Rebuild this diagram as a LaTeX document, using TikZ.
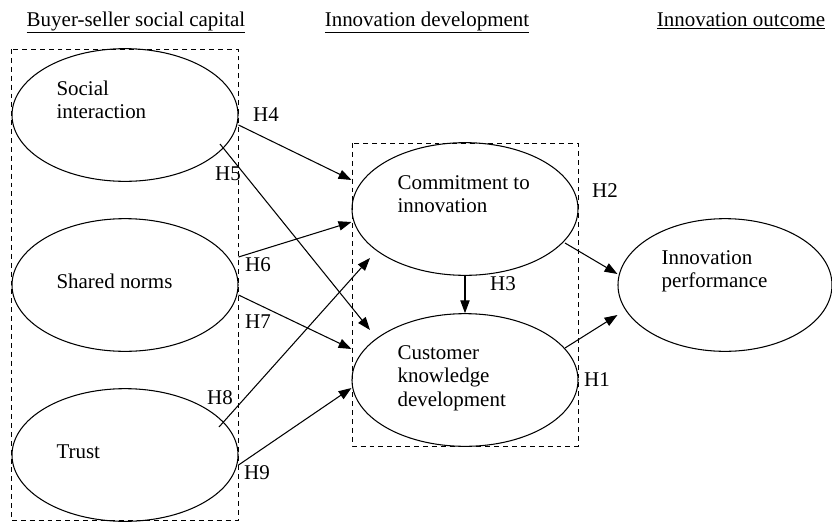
\documentclass[tikz,border=0pt]{standalone}
\usepackage{fontspec}
\setmainfont{Liberation Serif}
\usetikzlibrary{shapes.geometric,arrows.meta,calc}

\begin{document}
\begin{tikzpicture}[x=0.03cm, y=-0.03cm, line width=0.9pt,
  font=\fontsize{17.9}{20}\selectfont,
  construct/.style={draw, ellipse, inner sep=0pt, minimum width=6.78cm, minimum height=3.98cm},
  txt/.style={anchor=west, align=left, inner sep=0pt},
  hyp/.style={inner sep=0pt},
  dashbox/.style={dash pattern=on 4.2pt off 3.4pt, line width=0.8pt},
  arr/.style={-{Triangle[length=11pt,width=8pt]}}]
\useasboundingbox (0,0) rectangle (832,522);

% headings
\node[anchor=base] (hsoc) at (136,26) {\underline{Buyer-seller social capital}};
\node[anchor=base] (hdev) at (427,26) {\underline{Innovation development}};
\node[anchor=base] (hout) at (741,26) {\underline{Innovation outcome}};

% dashed boxes
\draw[dashbox] (11,49) rectangle (238,520);
\draw[dashbox] (352,143) rectangle (578,446);

% constructs
\node[construct] (si) at (125,115) {};
\node[construct] (sn) at (125,285) {};
\node[construct] (tr) at (125,455) {};
\node[construct] (ci) at (465,209) {};
\node[construct] (ck) at (465,380) {};
\node[construct, minimum width=6.42cm] (ip) at (725,285) {};

\node[txt] (sit) at (56,100) {Social\\interaction};
\node[txt] (snt) at (56,281) {Shared norms};
\node[txt] (trt) at (56,452) {Trust};
\node[txt] (cit) at (397,194) {Commitment to\\innovation};
\node[txt] (ckt) at (397,378) {Customer\\knowledge\\development};
\node[txt] (ipt) at (661,271) {Innovation\\performance};

% hypotheses
\draw[arr] ($(si.east)+(0,10)$) -- ($(ci.west)+(0,-29)$);
\draw[arr] ($(si.center)+(95,29)$) -- ($(ck.center)+(-95,-50)$);
\draw[arr] ($(sn.east)+(0,-28)$) -- ($(ci.west)+(0,13)$);
\draw[arr] ($(sn.east)+(0,10)$) -- ($(ck.west)+(0,-31)$);
\draw[arr] ($(tr.center)+(94,-28)$) -- ($(ci.center)+(-95,49)$);
\draw[arr] ($(tr.east)+(0,10)$) -- ($(ck.west)+(0,8)$);
\draw[arr] (ci.south) -- (ck.north);
\draw[arr] ($(ci.center)+(100,34)$) -- ($(ip.west)+(0,-11)$);
\draw[arr] ($(ck.center)+(100,-32)$) -- ($(ip.west)+(0,30)$);

\node[hyp] (h4) at (266,115) {H4};
\node[hyp] (h5) at (228,174) {H5};
\node[hyp] (h6) at (258,265) {H6};
\node[hyp] (h7) at (258,322) {H7};
\node[hyp] (h8) at (220,398) {H8};
\node[hyp] (h9) at (257,473) {H9};
\node[hyp] (h3) at (503,284) {H3};
\node[hyp] (h2) at (605,191) {H2};
\node[hyp] (h1) at (597,380) {H1};
\end{tikzpicture}
\end{document}
